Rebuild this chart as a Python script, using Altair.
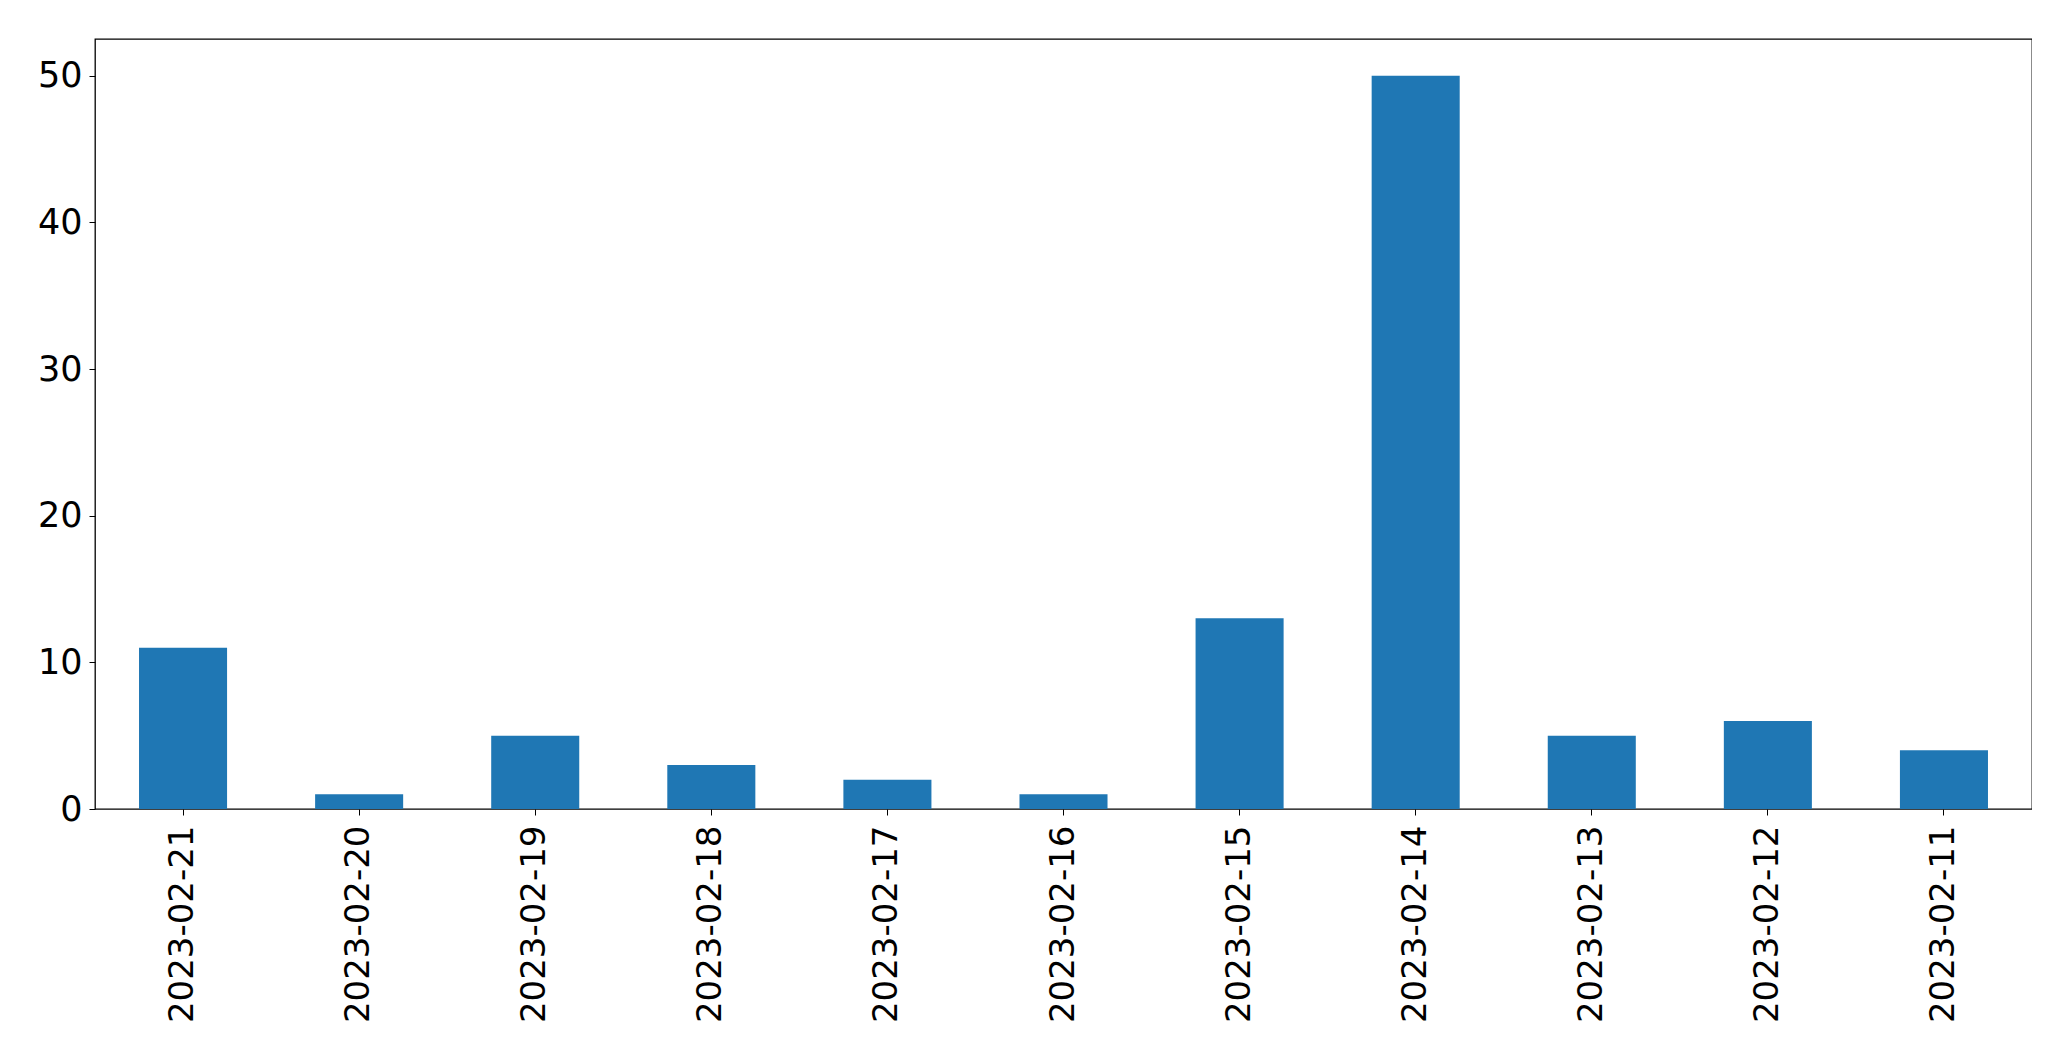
import altair as alt
import pandas as pd

dates = ["2023-02-21", "2023-02-20", "2023-02-19", "2023-02-18", "2023-02-17",
         "2023-02-16", "2023-02-15", "2023-02-14", "2023-02-13", "2023-02-12", "2023-02-11"]
counts = [11, 1, 5, 3, 2, 1, 13, 50, 5, 6, 4]
y_ticks = [0, 10, 20, 30, 40, 50]

df = pd.DataFrame({"date": dates, "count": counts})

chart = alt.Chart(df).mark_bar(color="#1f77b4").encode(
    x=alt.X("date:N", sort=None, title=None,
            scale=alt.Scale(paddingInner=0.5, paddingOuter=0.25),
            axis=alt.Axis(labelAngle=-90, labelAlign="right", labelBaseline="middle",
                          labelPadding=10, tickSize=6, labelFontSize=34, domain=False,
                          labelLimit=0,
                          labelFont="DejaVu Sans", labelColor="black", tickColor="black")),
    y=alt.Y("count:Q", title=None,
            scale=alt.Scale(domain=[0, 52.5], nice=False),
            axis=alt.Axis(values=y_ticks, grid=False, tickSize=6, labelPadding=7,
                          labelFontSize=35, labelFont="DejaVu Sans", labelColor="black",
                          tickColor="black", domain=False, minExtent=87, labelBaseline="middle")),
).properties(
    width=1937, height=770,
    padding={"top": 31, "left": 0, "right": 0, "bottom": 0},
).configure_view(stroke="black", strokeWidth=1.3)

chart.save("out.html", embed_options={"renderer": "svg", "actions": False})
